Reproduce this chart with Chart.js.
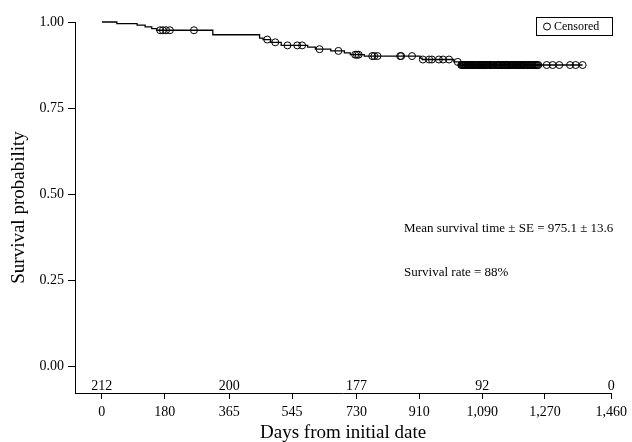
<!DOCTYPE html>
<html>
<head>
<meta charset="utf-8">
<script src="https://cdn.jsdelivr.net/npm/chart.js@4.4.1/dist/chart.umd.min.js"></script>
<style>
  html, body { margin: 0; padding: 0; background: #fff; }
  #wrap { width: 632px; height: 442px; }
</style>
</head>
<body>
<div id="wrap"><canvas id="kmChart" width="632" height="442"></canvas></div>
<script>
// Kaplan-Meier steps: day of event and survival right after it
const eventDays = [43, 101, 124, 143, 157, 318, 452, 462, 484, 514, 590, 612, 656, 695, 712, 752, 912, 918, 1009, 1026];
const eventSurv = [0.995, 0.991, 0.986, 0.981, 0.976, 0.963, 0.953, 0.949, 0.941, 0.932, 0.927, 0.921, 0.916, 0.910, 0.905, 0.901, 0.895, 0.891, 0.884, 0.875];

// censored observations (days)
const censorDays = [
  167, 175, 184, 195, 264,
  474, 497, 532, 560, 574, 624, 678, 726, 731, 736, 775, 781, 790,
  855, 858, 889, 920, 938, 946, 966, 978, 995, 1020, 1030,
  1032, 1034, 1037, 1039, 1042, 1043, 1046, 1049, 1050, 1053, 1056, 1058, 1061, 1063,
  1066, 1068, 1071, 1074, 1076, 1079, 1081, 1084, 1087, 1089, 1092, 1095, 1097, 1100,
  1102, 1105, 1108, 1110, 1113, 1116, 1120, 1123, 1127, 1131, 1134, 1136, 1139, 1141,
  1144, 1147, 1149, 1153, 1156, 1158, 1161, 1163, 1166, 1169, 1171, 1174, 1177, 1179,
  1182, 1185, 1187, 1190, 1192, 1195, 1198, 1200, 1203, 1205, 1208, 1211, 1214, 1218,
  1221, 1224, 1227, 1230, 1233, 1236, 1239, 1242, 1245, 1248, 1251,
  1275, 1292, 1311, 1342, 1358, 1378
];

const xTicks = [0, 180, 365, 545, 730, 910, 1090, 1270, 1460];
const yTicks = [0, 0.25, 0.5, 0.75, 1];

// number at risk row
const riskDays = [0, 365, 730, 1090, 1460];
const riskCounts = [212, 200, 177, 92, 0];

const FONT = "'Liberation Serif', 'Times New Roman', serif";

function survAt(t) {
  let s = 1;
  for (let i = 0; i < eventDays.length; i++) {
    if (eventDays[i] <= t) s = eventSurv[i];
  }
  return s;
}

const lastDay = censorDays[censorDays.length - 1];
const curve = [{ x: 0, y: 1 }];
eventDays.forEach((d, i) => curve.push({ x: d, y: eventSurv[i] }));
curve.push({ x: lastDay, y: survAt(lastDay) });

const censored = censorDays.map((d) => ({ x: d, y: survAt(d) }));

const extras = {
  id: 'extras',
  afterDraw(chart) {
    const { ctx, chartArea, scales } = chart;
    ctx.save();
    ctx.fillStyle = '#000';
    ctx.strokeStyle = '#000';

    // numbers at risk
    ctx.font = '14px ' + FONT;
    ctx.textAlign = 'center';
    ctx.textBaseline = 'middle';
    riskDays.forEach((d, i) => {
      ctx.fillText(String(riskCounts[i]), scales.x.getPixelForValue(d), chartArea.bottom - 7);
    });

    // notes
    ctx.font = '13px ' + FONT;
    ctx.textAlign = 'left';
    ctx.fillText('Mean survival time \u00b1 SE = 975.1 \u00b1 13.6', 404, 229);
    ctx.fillText('Survival rate = 88%', 404, 273);

    // legend box
    ctx.lineWidth = 1;
    ctx.strokeRect(536.5, 17.5, 76, 18);
    ctx.beginPath();
    ctx.arc(547, 26.5, 3.5, 0, Math.PI * 2);
    ctx.stroke();
    ctx.font = '12px ' + FONT;
    ctx.fillText('Censored', 554, 26.5);
    ctx.restore();
  }
};

const ctx = document.getElementById('kmChart').getContext('2d');
new Chart(ctx, {
  type: 'scatter',
  data: {
    datasets: [
      {
        label: 'Survival',
        data: curve,
        showLine: true,
        stepped: 'before',
        borderColor: '#000',
        borderWidth: 1.3,
        pointRadius: 0,
        clip: false
      },
      {
        label: 'Censored',
        data: censored,
        showLine: false,
        pointStyle: 'circle',
        pointRadius: 3.5,
        borderWidth: 1,
        borderColor: '#000',
        backgroundColor: 'rgba(0,0,0,0)',
        clip: false
      }
    ]
  },
  options: {
    responsive: false,
    animation: false,
    events: [],
    layout: { padding: { top: 22, right: 19, left: 0, bottom: 0 } },
    plugins: { legend: { display: false }, tooltip: { enabled: false } },
    scales: {
      x: {
        type: 'linear',
        min: -77,
        max: 1460,
        afterBuildTicks: (s) => { s.ticks = xTicks.map((v) => ({ value: v })); },
        afterFit: (s) => { s.height = 49; },
        ticks: {
          color: '#000',
          padding: 5,
          maxRotation: 0,
          autoSkip: false,
          font: { family: FONT, size: 14 },
          callback: (v) => Number(v).toLocaleString('en')
        },
        grid: { drawOnChartArea: false, drawTicks: true, tickLength: 6, color: '#000' },
        border: { color: '#000', width: 1 },
        title: {
          display: true,
          text: 'Days from initial date',
          color: '#000',
          font: { family: FONT, size: 19 },
          padding: { top: 0, bottom: -2 }
        }
      },
      y: {
        type: 'linear',
        min: -0.078,
        max: 1,
        afterBuildTicks: (s) => { s.ticks = yTicks.map((v) => ({ value: v })); },
        afterFit: (s) => { s.width = 75; },
        ticks: {
          color: '#000',
          padding: 4,
          font: { family: FONT, size: 14 },
          callback: (v) => Number(v).toFixed(2)
        },
        grid: { drawOnChartArea: false, drawTicks: true, tickLength: 7, color: '#000' },
        border: { color: '#000', width: 1 },
        title: {
          display: true,
          text: 'Survival probability',
          color: '#000',
          font: { family: FONT, size: 19 },
          padding: { top: 8, bottom: 0 }
        }
      }
    }
  },
  plugins: [extras]
});
</script>
</body>
</html>
